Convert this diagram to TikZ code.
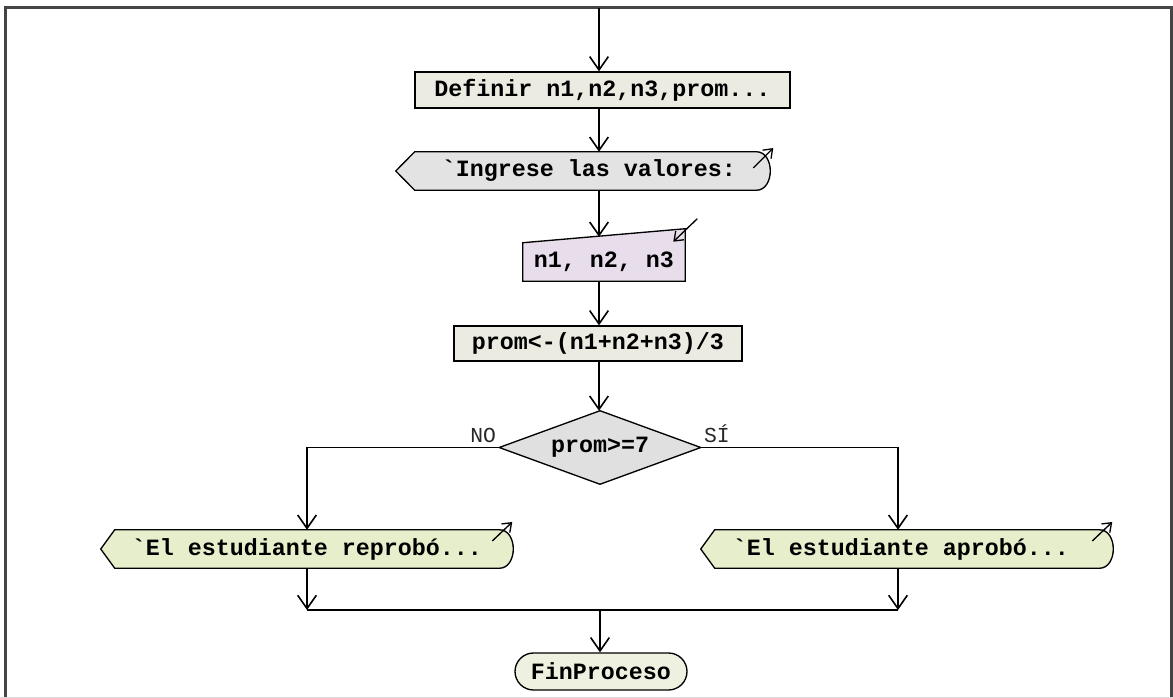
\documentclass[tikz,border=0pt]{standalone}
\usepackage{fontspec}
\setmonofont{Liberation Mono}
\usetikzlibrary{arrows.meta,calc,shapes.misc}
\pgfdeclarelayer{background}
\pgfsetlayers{background,main}
\definecolor{framec}{HTML}{454545}
\definecolor{procfill}{HTML}{ECEBE2}
\definecolor{dispfill}{HTML}{E3E3E3}
\definecolor{inpfill}{HTML}{E8DDEB}
\definecolor{decfill}{HTML}{E0E0E0}
\definecolor{outfill}{HTML}{E6EECB}
\definecolor{finfill}{HTML}{EEF1DF}
\newcommand\nodefont{\fontsize{17.5}{20}\selectfont\ttfamily\bfseries}
\newcommand\labfont{\fontsize{16}{18}\selectfont\ttfamily}
\begin{document}
\begin{tikzpicture}[x=0.75pt,y=-0.75pt,
  base/.style={inner sep=0pt, font=\nodefont, text=black},
  boxline/.style={draw=black, line width=1pt},
  lab/.style={inner sep=0pt, font=\labfont, text=black!85},
  link/.style={line width=1.4pt, draw=black},
  conn/.style={link, -{Straight Barb[length=10pt,width=14pt,line width=1.2pt]}},
  small/.style={line width=1pt, -{Straight Barb[length=6pt,width=9pt,line width=1pt]}}]
\useasboundingbox (0,0) rectangle (1173,698);
\draw[framec, line width=2.25pt] (5,698) -- (5,7.5) -- (1171,7.5) -- (1171,698);
\draw[black!15, line width=0.75pt] (0,697) -- (1173,697);

% nodes
\node[base, boxline, fill=procfill, minimum width=281.25pt, minimum height=27pt] (def) at (602.5,90) {Definir n1,n2,n3,prom...};
\node[base, minimum width=280.5pt, minimum height=28.5pt] (ing) at (583,171) {\hspace*{9pt}\textasciigrave Ingrese las valores:};
\node[base, minimum width=121.5pt, minimum height=28.5pt] (inp) at (604,262) {n1, n2, n3};
\node[base, boxline, fill=procfill, minimum width=216pt, minimum height=26.25pt] (prom) at (598,343.5) {prom<-(n1+n2+n3)/3};
\node[base, minimum width=150.75pt, minimum height=54.75pt] (dec) at (600,447.5) {prom>=7};
\node[base, minimum width=309pt, minimum height=28.5pt] (rep) at (307,549) {\textasciigrave El estudiante reprobó...};
\node[base, minimum width=309pt, minimum height=28.5pt] (apr) at (907,549) {\textasciigrave El estudiante aprobó...\hspace*{9pt}};
\node[base, boxline, fill=finfill, rounded rectangle, minimum width=129pt, minimum height=27.75pt] (fin) at (601,671.5) {FinProceso};

\node[lab, anchor=base east] (no) at ($(dec.west)+(-3,-5)$) {NO};
\node[lab, anchor=base west] (si) at ($(dec.east)+(3,-5)$) {SÍ};

% shapes
\begin{pgfonlayer}{background}
\draw[boxline, fill=dispfill] (ing.west) -- ($(ing.north west)+(19,0)$) -- ($(ing.north east)+(-14,0)$)
  .. controls ($(ing.north east)+(4.7,0)$) and ($(ing.south east)+(4.7,0)$) .. ($(ing.south east)+(-14,0)$)
  -- ($(ing.south west)+(19,0)$) -- cycle;
\draw[boxline, fill=inpfill] (inp.north west) -- ($(inp.north east)+(0,-14)$) -- (inp.south east) -- (inp.south west) -- cycle;
\draw[boxline, fill=decfill] (dec.north) -- (dec.east) -- (dec.south) -- (dec.west) -- cycle;
\foreach \n in {rep,apr}{
\draw[boxline, fill=outfill] (\n.west) -- ($(\n.north west)+(14,0)$) -- ($(\n.north east)+(-14,0)$)
  .. controls ($(\n.north east)+(4.7,0)$) and ($(\n.south east)+(4.7,0)$) .. ($(\n.south east)+(-14,0)$)
  -- ($(\n.south west)+(14,0)$) -- cycle;
}
\end{pgfonlayer}

% small io arrows
\draw[small] ($(ing.east)+(-17,-3)$) -- ($(ing.east)+(3,-23)$);
\draw[small] ($(inp.north east)+(12,-24)$) -- ($(inp.north east)+(-12,-1)$);
\draw[small] ($(rep.east)+(-21,-8)$) -- ($(rep.east)+(-1,-27)$);
\draw[small] ($(apr.east)+(-21,-8)$) -- ($(apr.east)+(-1,-27)$);

% connectors
\coordinate (top) at (599,8);
\coordinate (sicol) at (898,0);
\coordinate (jl) at (307,610);
\coordinate (jr) at (898,610);
\coordinate (jc) at (600,610);
\draw[conn] (top) -- (def.north -| top);
\draw[conn] (def.south -| top) -- (ing.north -| top);
\draw[conn] (ing.south -| top) -- ($(inp.north -| top)+(0,-6)$);
\draw[conn] (inp.south -| top) -- (prom.north -| top);
\draw[conn] (prom.south -| top) -- (dec.north -| top);
\draw[conn] (dec.west) -| (rep.north);
\draw[conn] (dec.east) -| (apr.north -| sicol);
\draw[conn] (rep.south) -- (jl);
\draw[conn] (apr.south -| jr) -- (jr);
\draw[link] (jl) -- (jr);
\draw[conn] (jc) -- (jc |- fin.north);
\end{tikzpicture}
\end{document}
